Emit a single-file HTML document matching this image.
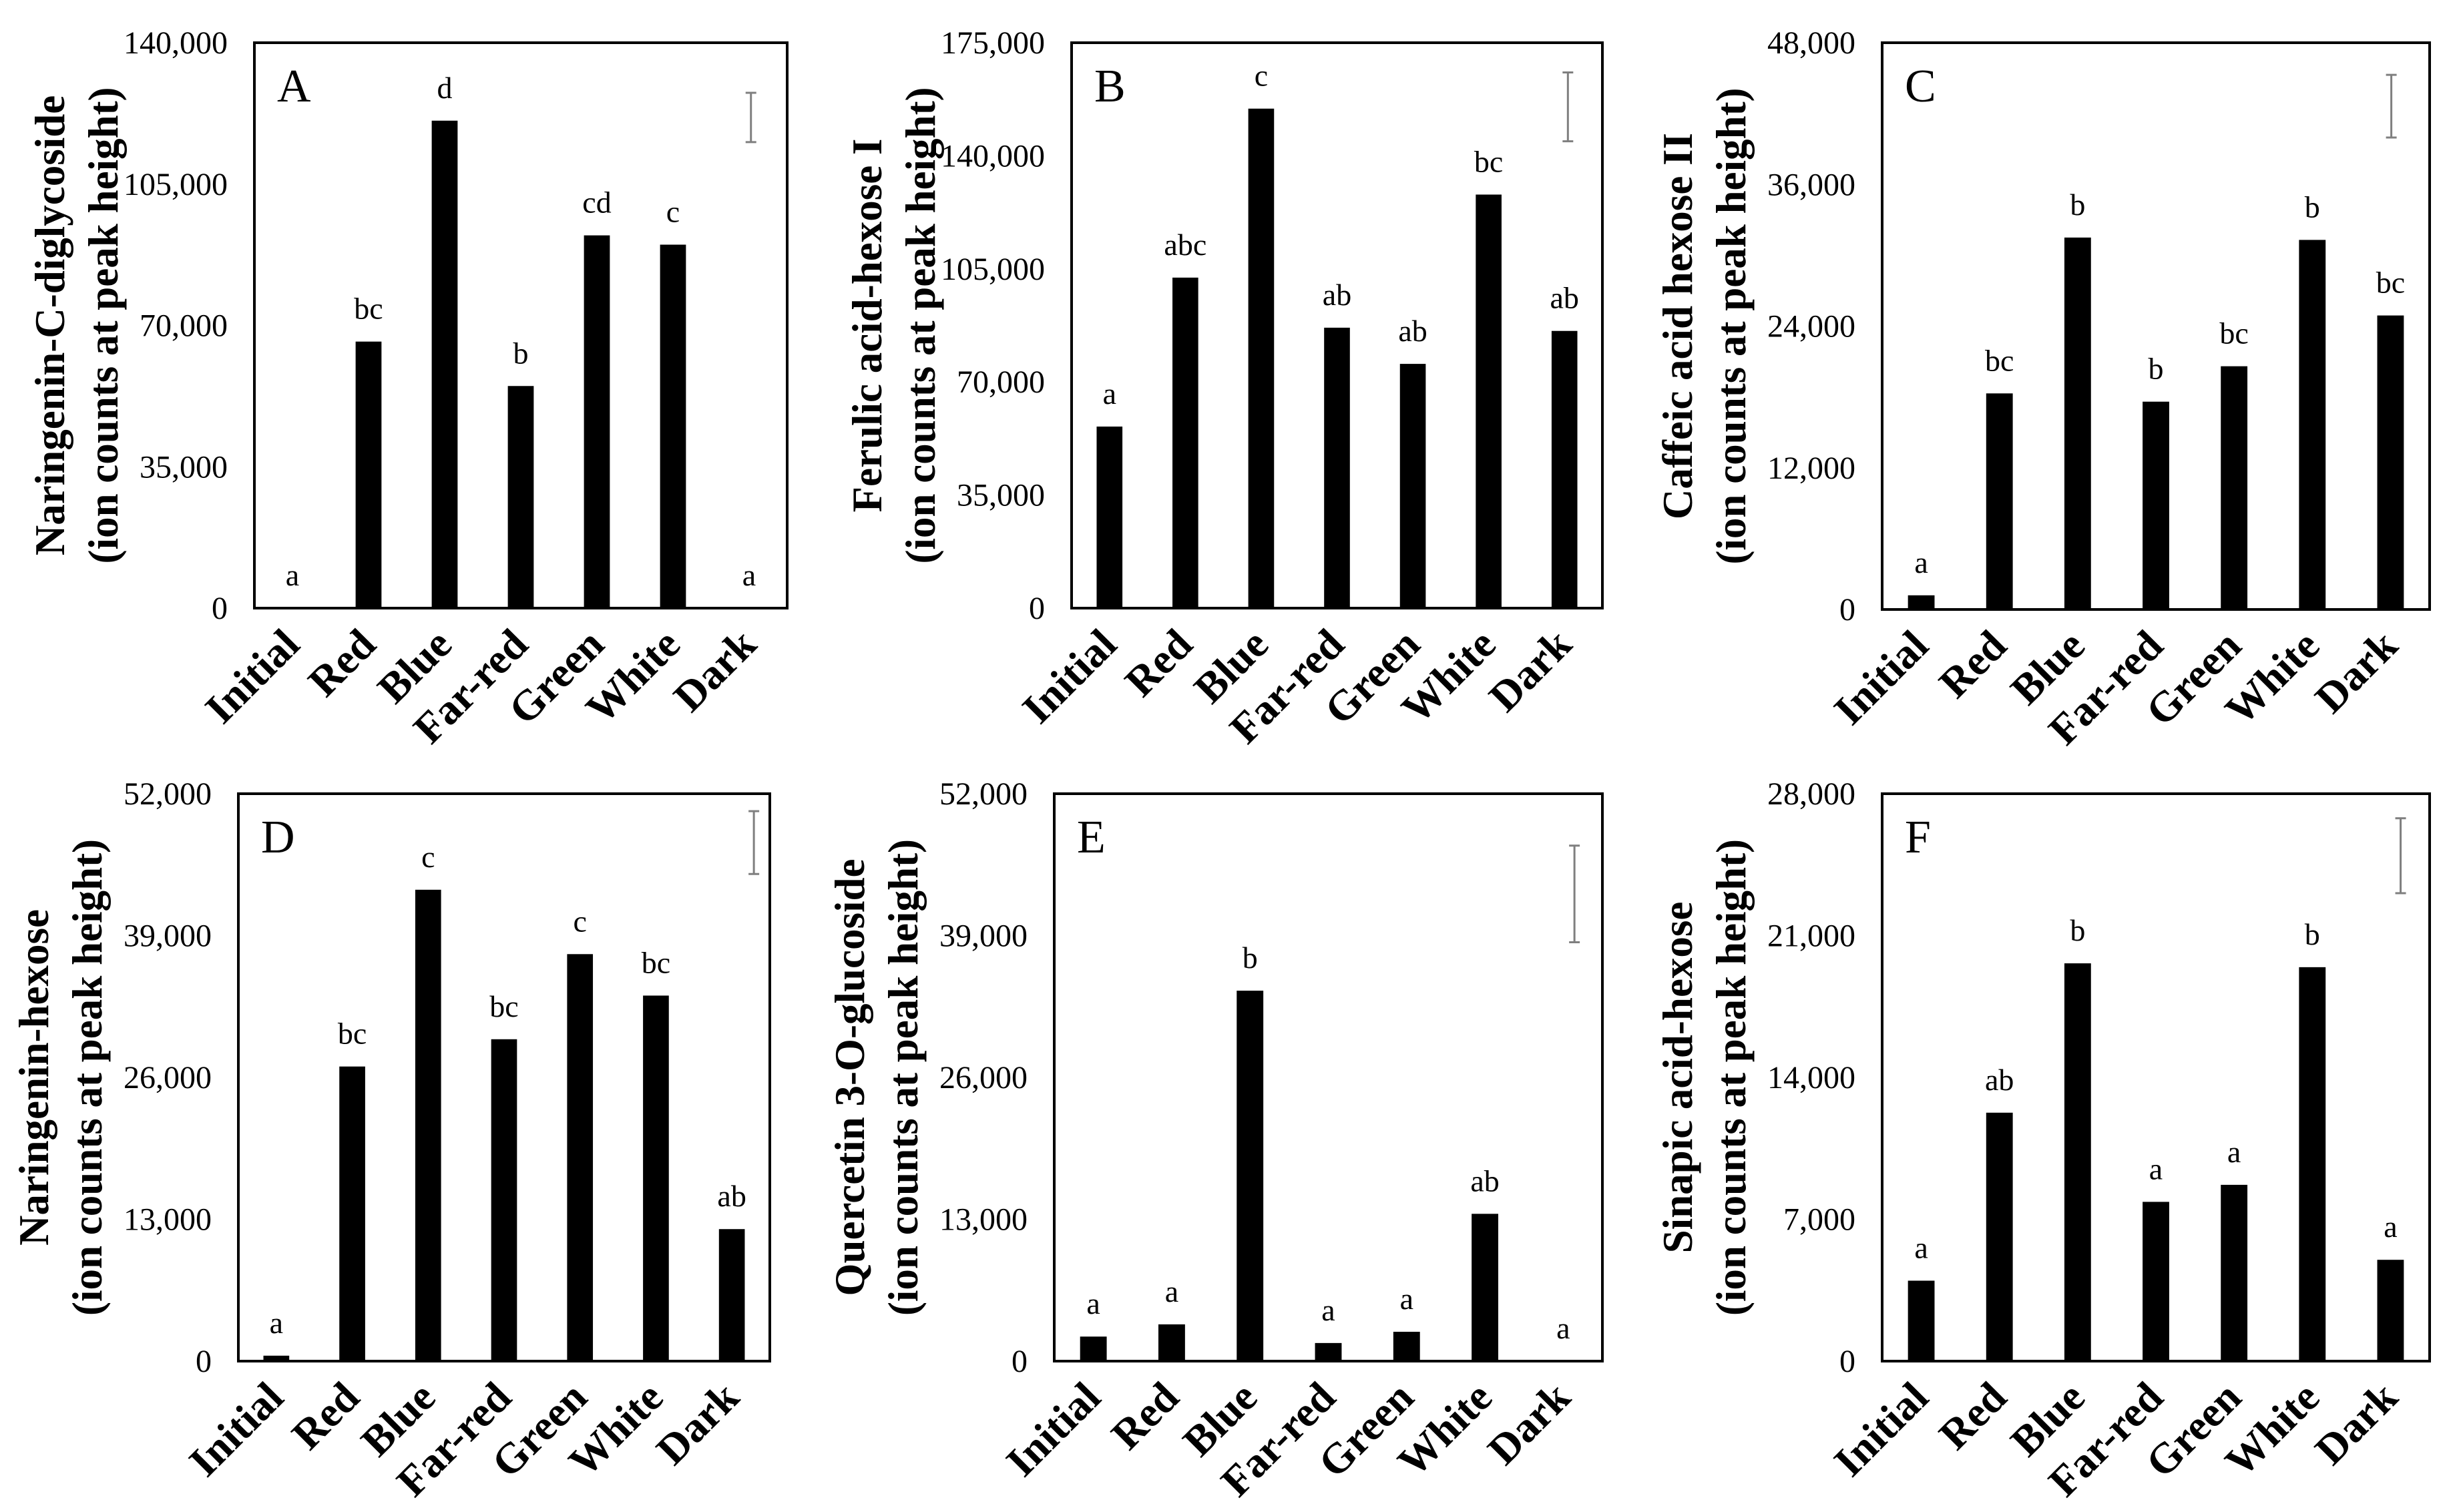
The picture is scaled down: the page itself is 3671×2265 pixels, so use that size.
<!DOCTYPE html>
<html><head><meta charset="utf-8"><style>
html,body{margin:0;padding:0;background:#fff;}
svg{display:block;}
text{font-family:"Liberation Serif",serif;fill:#000;}
</style></head>
<body>
<svg id="fig" width="3671" height="2265" viewBox="0 0 3671 2265" xmlns="http://www.w3.org/2000/svg"></svg>
<script>
const categories = ["Initial","Red","Blue","Far-red","Green","White","Dark"];
const valuesA = [0,66000,120700,55000,92300,90000,0];
const valuesB = [56200,102300,154600,86800,75600,128000,85800];
const valuesC = [1200,18300,31500,17600,20600,31300,24900];
const valuesD = [500,27000,43200,29500,37300,33500,12100];
const valuesE = [2250,3370,33950,1660,2690,13500,0];
const valuesF = [3970,12260,19630,7860,8700,19440,5000];
const lettersA = ["a","bc","d","b","cd","c","a"];
const lettersB = ["a","abc","c","ab","ab","bc","ab"];
const lettersC = ["a","bc","b","b","bc","b","bc"];
const lettersD = ["a","bc","c","bc","c","bc","ab"];
const lettersE = ["a","a","b","a","a","ab","a"];
const lettersF = ["a","ab","b","a","a","b","a"];
const ticksA = ["0","35,000","70,000","105,000","140,000"];
const ticksB = ["0","35,000","70,000","105,000","140,000","175,000"];
const ticksC = ["0","12,000","24,000","36,000","48,000"];
const ticksD = ["0","13,000","26,000","39,000","52,000"];
const ticksE = ["0","13,000","26,000","39,000","52,000"];
const ticksF = ["0","7,000","14,000","21,000","28,000"];
const errA = [115400,127600];
const errB = [144500,165800];
const errC = [39970,45280];
const errD = [44640,50400];
const errE = [38390,47240];
const errF = [23090,26790];

const NS="http://www.w3.org/2000/svg";
const svg=document.getElementById('fig');
function mk(tag,attrs,parent){const e=document.createElementNS(NS,tag);for(const k in attrs)e.setAttribute(k,attrs[k]);(parent||svg).appendChild(e);return e;}

const panels=[
 {id:"a",L:"A",title1:"Naringenin-C-diglycoside",vals:valuesA,lets:lettersA,ticks:ticksA,err:errA,x0:381,x1:1179,y0:64,y1:911,ex:0.932},
 {id:"b",L:"B",title1:"Ferulic acid-hexose I",vals:valuesB,lets:lettersB,ticks:ticksB,err:errB,x0:1605,x1:2400,y0:64,y1:911,ex:0.935},
 {id:"c",L:"C",title1:"Caffeic acid hexose II",vals:valuesC,lets:lettersC,ticks:ticksC,err:errC,x0:2819,x1:3639,y0:64,y1:913,ex:0.93},
 {id:"d",L:"D",title1:"Naringenin-hexose",vals:valuesD,lets:lettersD,ticks:ticksD,err:errD,x0:357,x1:1153,y0:1189,y1:2039,ex:0.97},
 {id:"e",L:"E",title1:"Quercetin 3-O-glucoside",vals:valuesE,lets:lettersE,ticks:ticksE,err:errE,x0:1579,x1:2400,y0:1189,y1:2039,ex:0.949},
 {id:"f",L:"F",title1:"Sinapic acid-hexose",vals:valuesF,lets:lettersF,ticks:ticksF,err:errF,x0:2819,x1:3639,y0:1189,y1:2039,ex:0.947}
];

panels.forEach(p=>{
  const g=mk('g',{});
  
  
  const maxV=parseFloat(p.ticks[p.ticks.length-1].replace(/,/g,''));
  const yS=v=>p.y1-(v/maxV)*(p.y1-p.y0);
  const band=(p.x1-p.x0)/categories.length;
  const xC=i=>p.x0+band*(i+0.5);
  const bw=band*0.34;
  p.ticks.forEach((t,i)=>{
    const v=parseFloat(t.replace(/,/g,''));
    const tx=mk('text',{x:p.x0-40,y:yS(v)+16,'text-anchor':'end','font-size':48},g);
    tx.textContent=t;
    
    
  });
  p.vals.forEach((v,i)=>{
    const r=mk('rect',{x:xC(i)-bw/2,y:yS(v),width:bw,height:p.y1-yS(v),fill:'#000'},g);
    
    
    const lt=mk('text',{x:xC(i),y:yS(v)-34,'text-anchor':'middle','font-size':46},g);
    lt.textContent=p.lets[i];
    
    
    const cx=xC(i)+14, cy=p.y1+58;
    const cl=mk('text',{x:cx,y:cy,'text-anchor':'end','font-size':64,'font-weight':'bold',transform:`rotate(-45 ${cx} ${cy})`},g);
    cl.textContent=categories[i];
    
    
  });
  const fr=mk('rect',{x:p.x0,y:p.y0,width:p.x1-p.x0,height:p.y1-p.y0,fill:'none',stroke:'#000','stroke-width':4},g);
  
  
  const pl=mk('text',{x:p.x0+34,y:p.y0+88,'font-size':70},g);
  pl.textContent=p.L;
  
  
  const ex=p.x0+(p.x1-p.x0)*p.ex, ya=yS(p.err[0]), yb=yS(p.err[1]);
  const eg=mk('g',{stroke:'#7f7f7f','stroke-width':3},g);
  
  
  mk('line',{x1:ex,y1:ya,x2:ex,y2:yb},eg);
  mk('line',{x1:ex-8,y1:ya,x2:ex+8,y2:ya},eg);
  mk('line',{x1:ex-8,y1:yb,x2:ex+8,y2:yb},eg);
  const my=(p.y0+p.y1)/2;
  const t1x=p.x0-285, t2x=p.x0-205;
  const t1=mk('text',{x:t1x,y:my,'text-anchor':'middle','font-size':63,'font-weight':'bold',transform:`rotate(-90 ${t1x} ${my})`},g);
  t1.textContent=p.title1;
  
  
  const t2=mk('text',{x:t2x,y:my,'text-anchor':'middle','font-size':63,'font-weight':'bold',transform:`rotate(-90 ${t2x} ${my})`},g);
  t2.textContent="(ion counts at peak height)";
  
  
});
</script>
</body></html>
